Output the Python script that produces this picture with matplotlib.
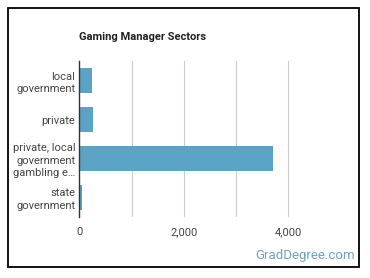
import matplotlib
matplotlib.use("Agg")
import matplotlib.pyplot as plt
from matplotlib.patches import Rectangle

categories = ["local\ngovernment", "private", "private, local\ngovernment\ngambling e\u2026", "state\ngovernment"]
values = [250, 270, 3710, 45]
tick_values = [0, 2000, 4000]
tick_labels = ["0", "2,000", "4,000"]
grid_values = [1000, 2000, 3000, 4000]

plt.rcParams['font.family'] = ['Roboto', 'DejaVu Sans']

W, H = 370, 278
fig = plt.figure(figsize=(W / 100, H / 100), dpi=100)
fig.patch.set_facecolor("white")

# border
fig.add_artist(Rectangle((8 / W, 1 - 266.5 / H), (359 - 8) / W, (266.5 - 7.5) / H,
                         transform=fig.transFigure, fill=False, edgecolor="black", lw=1.3))

ax = fig.add_axes([79.3 / W, 1 - 217 / H, (340 - 79.3) / W, (217 - 61) / H])
ax.set_facecolor("none")
ys = list(range(len(categories)))
ax.barh(ys, values, height=0.65, color="#5ba3c4", edgecolor="none", zorder=3)
ax.set_ylim(len(categories) - 0.5, -0.5)
ax.set_xlim(0, 4990)
for g in grid_values:
    ax.axvline(g, color="#cccccc", lw=0.8, zorder=1)
ax.set_xticks(tick_values)
ax.set_xticklabels(tick_labels, fontsize=8, color="#444444")
ax.set_yticks(ys)
ax.set_yticklabels(categories, fontsize=8, color="#444444", linespacing=1.3)
ax.tick_params(axis="both", length=0, pad=3)
ax.tick_params(axis="x", pad=7)
for s in ["top", "right", "bottom"]:
    ax.spines[s].set_visible(False)
ax.spines["left"].set_color("#333333")
ax.spines["left"].set_linewidth(1.0)
ax.spines["left"].set_zorder(4)

fig.text(79 / W, 1 - 37 / H, "Gaming Manager Sectors", fontsize=8, fontweight="bold",
         color="#222222", ha="left", va="center")
fig.text(355 / W, 1 - 256 / H, "GradDegree.com", fontsize=9.5, color="#6fa3c3",
         ha="right", va="center")

fig.savefig("out.png", dpi=100)
